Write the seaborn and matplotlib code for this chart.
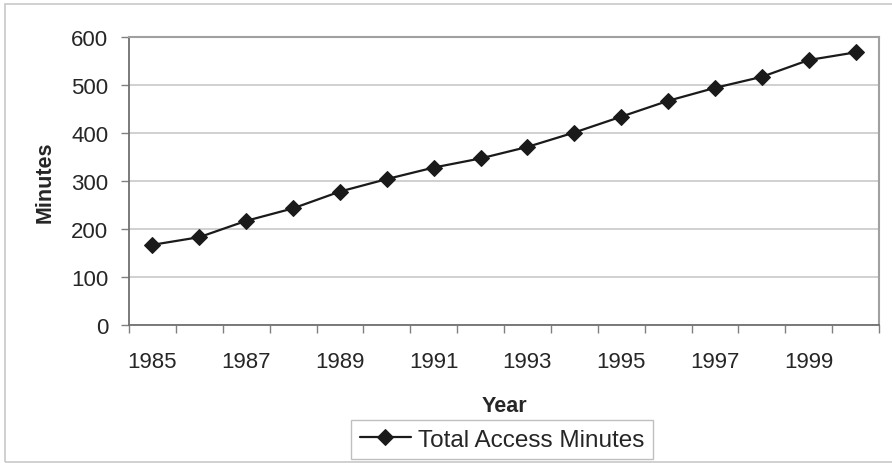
import matplotlib
matplotlib.use("Agg")
import matplotlib.pyplot as plt
import seaborn as sns
import pandas as pd
from matplotlib.patches import Rectangle

# values
years = list(range(1985, 2001))
minutes = [167, 183, 217, 243, 278, 304, 328, 347, 371, 401, 434, 467, 494, 517, 552, 568]
label_years = [1985, 1987, 1989, 1991, 1993, 1995, 1997, 1999]
y_ticks = [0, 100, 200, 300, 400, 500, 600]

df = pd.DataFrame({'Year': years, 'Minutes': minutes})

sns.set_style('white')
plt.rcParams['font.family'] = ['Liberation Sans', 'DejaVu Sans']

fig = plt.figure(figsize=(8.92, 4.64), dpi=100)
ax = fig.add_axes([129 / 892, 138 / 464, 750 / 892, 288 / 464])

sns.lineplot(data=df, x='Year', y='Minutes', ax=ax, color='#1a1a1a', linewidth=1.6,
             marker='D', markersize=8.5, markeredgecolor='#1a1a1a',
             label='Total Access Minutes', legend=False)

# category style axis: tick marks between years, labels on every other year
ax.set_xlim(years[0] - 0.5, years[-1] + 0.5)
ax.set_xticks([y - 0.5 for y in years] + [years[-1] + 0.5])
ax.set_xticklabels([])
ax.set_xticks(label_years, minor=True)
ax.set_xticklabels([str(y) for y in label_years], minor=True, fontsize=16)
ax.tick_params(axis='x', which='major', length=6, width=1, color='#808080', direction='out', bottom=True)
ax.tick_params(axis='x', which='minor', length=0, pad=19, bottom=True)

ax.set_ylim(0, 600)
ax.set_yticks(y_ticks)
ax.set_yticklabels([str(v) for v in y_ticks], fontsize=16)
ax.tick_params(axis='y', length=6, width=1, color='#808080', direction='out', left=True, pad=9)

ax.grid(axis='y', color='#c8c8c8', linewidth=1.2)
ax.grid(axis='x', visible=False)
for side in ['left', 'bottom']:
    ax.spines[side].set_color('#707070')
    ax.spines[side].set_linewidth(1.3)
for side in ['top', 'right']:
    ax.spines[side].set_color('#a0a0a0')
    ax.spines[side].set_linewidth(1.5)

ax.set_xlabel('Year', fontsize=15.5, fontweight='bold', labelpad=16)
ax.set_ylabel('Minutes', fontsize=15.5, fontweight='bold', labelpad=11)

handles, labels = ax.get_legend_handles_labels()
leg = fig.legend(handles, labels, loc='upper center', bbox_to_anchor=(502 / 892, 43 / 464),
                 fontsize=17.5, frameon=True, fancybox=False, handlelength=2.1,
                 handletextpad=0.3, borderpad=0.35, borderaxespad=0, edgecolor='#b0b0b0')
leg.get_frame().set_linewidth(1.0)

# outer chart border
fig.patches.append(Rectangle((5 / 892, 1.5 / 464), 0.999, 458 / 464, transform=fig.transFigure,
                             fill=False, edgecolor='#c8c8c8', linewidth=1.2))

fig.savefig('out.png', dpi=100)
